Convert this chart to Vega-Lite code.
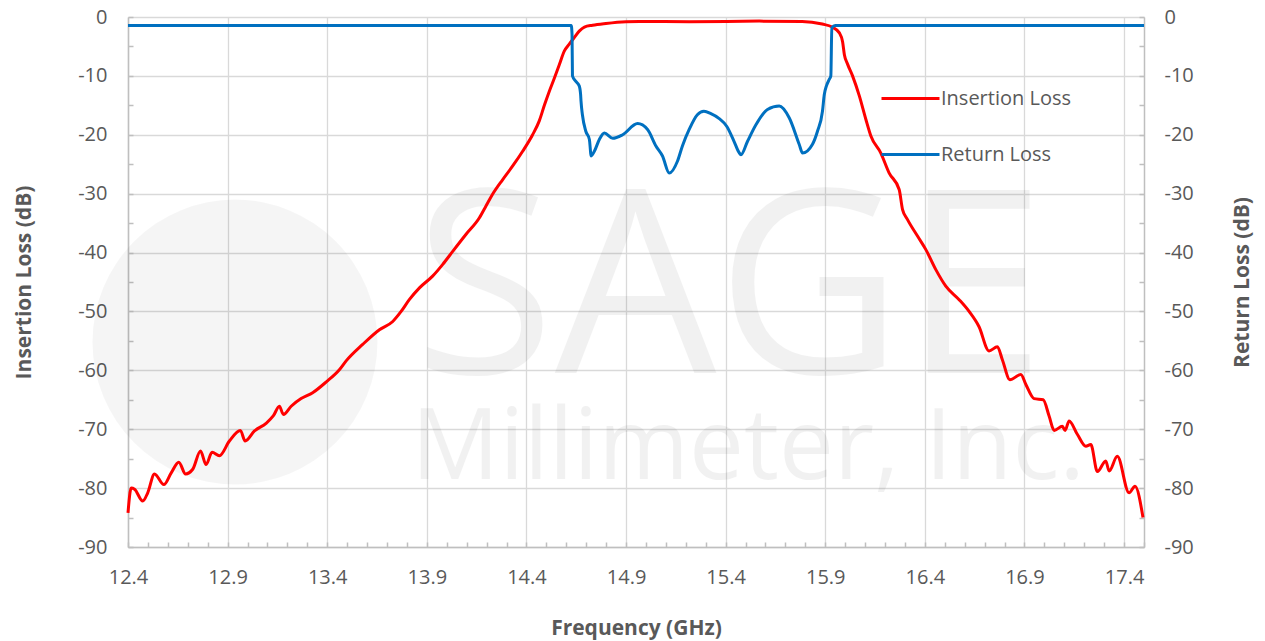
{
  "$schema": "https://vega.github.io/schema/vega-lite/v6.json",
  "width": 1016,
  "height": 530,
  "autosize": {"type": "none"},
  "padding": {"left": 128, "top": 17, "right": 121, "bottom": 94},
  "background": "white",
  "config": {
    "view": {"stroke": null},
    "font": "Open Sans",
    "axis": {
      "domainColor": "#bfbfbf",
      "domainWidth": 1.5,
      "tickColor": "#bfbfbf",
      "tickWidth": 1.5,
      "gridColor": "#d9d9d9",
      "gridWidth": 1.3,
      "labelColor": "#595959",
      "labelFont": "Open Sans",
      "labelFontSize": 20,
      "titleColor": "#595959",
      "titleFont": "Open Sans",
      "titleFontSize": 21,
      "titleFontWeight": "bold",
      "labelOverlap": false,
      "labelFlush": false
    },
    "legend": {
      "orient": "none",
      "legendX": 752,
      "legendY": 51,
      "symbolType": "stroke",
      "symbolSize": 3364,
      "symbolStrokeWidth": 3,
      "labelFont": "Open Sans",
      "labelFontSize": 20,
      "labelColor": "#595959",
      "labelOffset": 0,
      "rowPadding": 15
    }
  },
  "datasets": {
    "curves": [
      {"series": "Insertion Loss", "f": 12.400, "db": -84.2},
      {"series": "Insertion Loss", "f": 12.416, "db": -80.0},
      {"series": "Insertion Loss", "f": 12.433, "db": -80.2},
      {"series": "Insertion Loss", "f": 12.474, "db": -82.2},
      {"series": "Insertion Loss", "f": 12.499, "db": -80.8},
      {"series": "Insertion Loss", "f": 12.533, "db": -77.6},
      {"series": "Insertion Loss", "f": 12.580, "db": -79.4},
      {"series": "Insertion Loss", "f": 12.617, "db": -77.4},
      {"series": "Insertion Loss", "f": 12.655, "db": -75.6},
      {"series": "Insertion Loss", "f": 12.689, "db": -77.6},
      {"series": "Insertion Loss", "f": 12.725, "db": -76.8},
      {"series": "Insertion Loss", "f": 12.764, "db": -73.7},
      {"series": "Insertion Loss", "f": 12.792, "db": -76.0},
      {"series": "Insertion Loss", "f": 12.822, "db": -73.9},
      {"series": "Insertion Loss", "f": 12.859, "db": -74.5},
      {"series": "Insertion Loss", "f": 12.909, "db": -72.0},
      {"series": "Insertion Loss", "f": 12.964, "db": -70.2},
      {"series": "Insertion Loss", "f": 12.988, "db": -72.0},
      {"series": "Insertion Loss", "f": 13.035, "db": -70.3},
      {"series": "Insertion Loss", "f": 13.093, "db": -69.0},
      {"series": "Insertion Loss", "f": 13.130, "db": -67.7},
      {"series": "Insertion Loss", "f": 13.160, "db": -66.1},
      {"series": "Insertion Loss", "f": 13.180, "db": -67.5},
      {"series": "Insertion Loss", "f": 13.219, "db": -66.1},
      {"series": "Insertion Loss", "f": 13.269, "db": -64.8},
      {"series": "Insertion Loss", "f": 13.327, "db": -63.8},
      {"series": "Insertion Loss", "f": 13.394, "db": -62.0},
      {"series": "Insertion Loss", "f": 13.461, "db": -59.9},
      {"series": "Insertion Loss", "f": 13.495, "db": -58.4},
      {"series": "Insertion Loss", "f": 13.578, "db": -55.6},
      {"series": "Insertion Loss", "f": 13.662, "db": -53.1},
      {"series": "Insertion Loss", "f": 13.729, "db": -51.7},
      {"series": "Insertion Loss", "f": 13.771, "db": -50.0},
      {"series": "Insertion Loss", "f": 13.812, "db": -48.0},
      {"series": "Insertion Loss", "f": 13.863, "db": -46.0},
      {"series": "Insertion Loss", "f": 13.929, "db": -44.0},
      {"series": "Insertion Loss", "f": 13.980, "db": -42.0},
      {"series": "Insertion Loss", "f": 14.030, "db": -39.8},
      {"series": "Insertion Loss", "f": 14.097, "db": -36.9},
      {"series": "Insertion Loss", "f": 14.164, "db": -34.1},
      {"series": "Insertion Loss", "f": 14.197, "db": -32.1},
      {"series": "Insertion Loss", "f": 14.230, "db": -30.1},
      {"series": "Insertion Loss", "f": 14.281, "db": -27.6},
      {"series": "Insertion Loss", "f": 14.331, "db": -25.3},
      {"series": "Insertion Loss", "f": 14.381, "db": -22.8},
      {"series": "Insertion Loss", "f": 14.431, "db": -20.0},
      {"series": "Insertion Loss", "f": 14.465, "db": -17.6},
      {"series": "Insertion Loss", "f": 14.490, "db": -15.0},
      {"series": "Insertion Loss", "f": 14.515, "db": -12.6},
      {"series": "Insertion Loss", "f": 14.540, "db": -10.4},
      {"series": "Insertion Loss", "f": 14.565, "db": -8.1},
      {"series": "Insertion Loss", "f": 14.590, "db": -5.8},
      {"series": "Insertion Loss", "f": 14.615, "db": -4.6},
      {"series": "Insertion Loss", "f": 14.640, "db": -3.5},
      {"series": "Insertion Loss", "f": 14.665, "db": -2.4},
      {"series": "Insertion Loss", "f": 14.691, "db": -1.7},
      {"series": "Insertion Loss", "f": 14.732, "db": -1.4},
      {"series": "Insertion Loss", "f": 14.799, "db": -1.1},
      {"series": "Insertion Loss", "f": 14.900, "db": -0.8},
      {"series": "Insertion Loss", "f": 14.966, "db": -0.75},
      {"series": "Insertion Loss", "f": 15.217, "db": -0.8},
      {"series": "Insertion Loss", "f": 15.569, "db": -0.7},
      {"series": "Insertion Loss", "f": 15.784, "db": -0.75},
      {"series": "Insertion Loss", "f": 15.885, "db": -1.2},
      {"series": "Insertion Loss", "f": 15.935, "db": -1.7},
      {"series": "Insertion Loss", "f": 15.971, "db": -2.7},
      {"series": "Insertion Loss", "f": 15.987, "db": -4.2},
      {"series": "Insertion Loss", "f": 15.996, "db": -6.4},
      {"series": "Insertion Loss", "f": 16.012, "db": -8.0},
      {"series": "Insertion Loss", "f": 16.037, "db": -10.0},
      {"series": "Insertion Loss", "f": 16.071, "db": -13.4},
      {"series": "Insertion Loss", "f": 16.104, "db": -17.4},
      {"series": "Insertion Loss", "f": 16.129, "db": -20.2},
      {"series": "Insertion Loss", "f": 16.179, "db": -23.1},
      {"series": "Insertion Loss", "f": 16.221, "db": -26.5},
      {"series": "Insertion Loss", "f": 16.271, "db": -29.3},
      {"series": "Insertion Loss", "f": 16.288, "db": -32.7},
      {"series": "Insertion Loss", "f": 16.313, "db": -34.4},
      {"series": "Insertion Loss", "f": 16.363, "db": -37.2},
      {"series": "Insertion Loss", "f": 16.405, "db": -39.5},
      {"series": "Insertion Loss", "f": 16.455, "db": -42.9},
      {"series": "Insertion Loss", "f": 16.505, "db": -45.7},
      {"series": "Insertion Loss", "f": 16.572, "db": -48.0},
      {"series": "Insertion Loss", "f": 16.622, "db": -50.0},
      {"series": "Insertion Loss", "f": 16.672, "db": -52.6},
      {"series": "Insertion Loss", "f": 16.722, "db": -56.7},
      {"series": "Insertion Loss", "f": 16.764, "db": -56.0},
      {"series": "Insertion Loss", "f": 16.789, "db": -58.2},
      {"series": "Insertion Loss", "f": 16.827, "db": -61.6},
      {"series": "Insertion Loss", "f": 16.882, "db": -60.7},
      {"series": "Insertion Loss", "f": 16.907, "db": -62.4},
      {"series": "Insertion Loss", "f": 16.948, "db": -64.8},
      {"series": "Insertion Loss", "f": 16.994, "db": -65.0},
      {"series": "Insertion Loss", "f": 17.024, "db": -67.8},
      {"series": "Insertion Loss", "f": 17.049, "db": -70.2},
      {"series": "Insertion Loss", "f": 17.090, "db": -69.5},
      {"series": "Insertion Loss", "f": 17.104, "db": -70.2},
      {"series": "Insertion Loss", "f": 17.124, "db": -68.6},
      {"series": "Insertion Loss", "f": 17.166, "db": -70.9},
      {"series": "Insertion Loss", "f": 17.208, "db": -72.9},
      {"series": "Insertion Loss", "f": 17.233, "db": -72.6},
      {"series": "Insertion Loss", "f": 17.266, "db": -77.2},
      {"series": "Insertion Loss", "f": 17.308, "db": -75.4},
      {"series": "Insertion Loss", "f": 17.325, "db": -77.1},
      {"series": "Insertion Loss", "f": 17.366, "db": -74.6},
      {"series": "Insertion Loss", "f": 17.425, "db": -80.8},
      {"series": "Insertion Loss", "f": 17.455, "db": -79.7},
      {"series": "Insertion Loss", "f": 17.495, "db": -85.0},
      {"series": "Return Loss", "f": 12.400, "db": -1.45},
      {"series": "Return Loss", "f": 13.500, "db": -1.45},
      {"series": "Return Loss", "f": 14.625, "db": -1.45},
      {"series": "Return Loss", "f": 14.629, "db": -3.0},
      {"series": "Return Loss", "f": 14.631, "db": -10.0},
      {"series": "Return Loss", "f": 14.647, "db": -10.9},
      {"series": "Return Loss", "f": 14.665, "db": -11.7},
      {"series": "Return Loss", "f": 14.672, "db": -13.2},
      {"series": "Return Loss", "f": 14.674, "db": -14.3},
      {"series": "Return Loss", "f": 14.681, "db": -16.6},
      {"series": "Return Loss", "f": 14.698, "db": -19.4},
      {"series": "Return Loss", "f": 14.716, "db": -20.8},
      {"series": "Return Loss", "f": 14.725, "db": -23.6},
      {"series": "Return Loss", "f": 14.741, "db": -22.8},
      {"series": "Return Loss", "f": 14.766, "db": -20.8},
      {"series": "Return Loss", "f": 14.791, "db": -19.7},
      {"series": "Return Loss", "f": 14.833, "db": -20.6},
      {"series": "Return Loss", "f": 14.883, "db": -20.0},
      {"series": "Return Loss", "f": 14.958, "db": -18.1},
      {"series": "Return Loss", "f": 15.008, "db": -19.1},
      {"series": "Return Loss", "f": 15.050, "db": -21.9},
      {"series": "Return Loss", "f": 15.083, "db": -23.6},
      {"series": "Return Loss", "f": 15.117, "db": -26.5},
      {"series": "Return Loss", "f": 15.158, "db": -24.5},
      {"series": "Return Loss", "f": 15.183, "db": -21.9},
      {"series": "Return Loss", "f": 15.217, "db": -19.1},
      {"series": "Return Loss", "f": 15.258, "db": -16.6},
      {"series": "Return Loss", "f": 15.291, "db": -16.0},
      {"series": "Return Loss", "f": 15.326, "db": -16.4},
      {"series": "Return Loss", "f": 15.366, "db": -17.2},
      {"series": "Return Loss", "f": 15.406, "db": -18.6},
      {"series": "Return Loss", "f": 15.442, "db": -21.1},
      {"series": "Return Loss", "f": 15.467, "db": -23.0},
      {"series": "Return Loss", "f": 15.477, "db": -23.4},
      {"series": "Return Loss", "f": 15.510, "db": -21.1},
      {"series": "Return Loss", "f": 15.552, "db": -18.3},
      {"series": "Return Loss", "f": 15.610, "db": -15.7},
      {"series": "Return Loss", "f": 15.669, "db": -15.1},
      {"series": "Return Loss", "f": 15.719, "db": -17.1},
      {"series": "Return Loss", "f": 15.769, "db": -21.6},
      {"series": "Return Loss", "f": 15.786, "db": -23.1},
      {"series": "Return Loss", "f": 15.836, "db": -21.6},
      {"series": "Return Loss", "f": 15.861, "db": -19.4},
      {"series": "Return Loss", "f": 15.886, "db": -16.0},
      {"series": "Return Loss", "f": 15.895, "db": -13.2},
      {"series": "Return Loss", "f": 15.906, "db": -11.7},
      {"series": "Return Loss", "f": 15.920, "db": -10.6},
      {"series": "Return Loss", "f": 15.928, "db": -10.0},
      {"series": "Return Loss", "f": 15.933, "db": -1.8},
      {"series": "Return Loss", "f": 15.950, "db": -1.45},
      {"series": "Return Loss", "f": 17.500, "db": -1.45}
    ],
    "watermark": [
      {"kind": "logo", "label": "", "f": 12.937, "db": -55.2},
      {"kind": "big", "label": "SAGE", "f": 15.42, "db": -60.4},
      {"kind": "small", "label": "Millimeter, Inc.", "f": 15.513, "db": -78.5}
    ]
  },
  "resolve": {"axis": {"y": "independent", "x": "independent"}},
  "layer": [
    {
      "data": {"name": "watermark"},
      "transform": [{"filter": "datum.kind === 'logo'"}],
      "mark": {"type": "point", "shape": "circle", "filled": true, "size": 81225, "color": "#000000", "opacity": 0.04},
      "encoding": {
        "x": {"field": "f", "type": "quantitative", "scale": {"domain": [12.4, 17.5], "nice": false, "zero": false}, "axis": null},
        "y": {"field": "db", "type": "quantitative", "scale": {"domain": [-90, 0], "nice": false, "zero": false}, "axis": null}
      }
    },
    {
      "data": {"name": "watermark"},
      "transform": [{"filter": "datum.kind === 'big'"}],
      "mark": {"type": "text", "font": "Open Sans", "fontWeight": 400, "fontSize": 256, "align": "center", "baseline": "alphabetic", "color": "#000000", "opacity": 0.05},
      "encoding": {
        "x": {"field": "f", "type": "quantitative", "axis": null},
        "y": {"field": "db", "type": "quantitative", "axis": null},
        "text": {"field": "label"}
      }
    },
    {
      "data": {"name": "watermark"},
      "transform": [{"filter": "datum.kind === 'small'"}],
      "mark": {"type": "text", "font": "Open Sans", "fontWeight": 400, "fontSize": 98, "align": "center", "baseline": "alphabetic", "color": "#000000", "opacity": 0.05},
      "encoding": {
        "x": {"field": "f", "type": "quantitative", "axis": null},
        "y": {"field": "db", "type": "quantitative", "axis": null},
        "text": {"field": "label"}
      }
    },
    {
      "data": {"name": "curves"},
      "transform": [{"filter": "datum.series === 'Insertion Loss'"}],
      "mark": {"type": "line", "strokeWidth": 3, "interpolate": "monotone"},
      "encoding": {
        "x": {
          "field": "f", "type": "quantitative",
          "axis": {
            "orient": "bottom",
            "title": "Frequency (GHz)",
            "values": [12.4,12.5,12.6,12.7,12.8,12.9,13,13.1,13.2,13.3,13.4,13.5,13.6,13.7,13.8,13.9,14,14.1,14.2,14.3,14.4,14.5,14.6,14.7,14.8,14.9,15,15.1,15.2,15.3,15.4,15.5,15.6,15.7,15.8,15.9,16,16.1,16.2,16.3,16.4,16.5,16.6,16.7,16.8,16.9,17,17.1,17.2,17.3,17.4,17.5],
            "labelExpr": "round(datum.value * 10) % 5 === 4 ? format(datum.value, '.1f') : ''",
            "gridOpacity": {"condition": {"test": "round(datum.value * 10) % 5 !== 4", "value": 0}, "value": 1},
            "grid": true,
            "tickSize": -5,
            "labelPadding": 25,
            "titlePadding": 30
          }
        },
        "y": {
          "field": "db", "type": "quantitative",
          "axis": {
            "orient": "left",
            "title": "Insertion Loss (dB)",
            "values": [0,-5,-10,-15,-20,-25,-30,-35,-40,-45,-50,-55,-60,-65,-70,-75,-80,-85,-90],
            "labelExpr": "datum.value % 10 === 0 ? '' + datum.value : ''",
            "gridOpacity": {"condition": {"test": "datum.value % 10 !== 0", "value": 0}, "value": 1},
            "grid": true,
            "tickSize": -5,
            "labelPadding": 26,
            "titlePadding": 43
          }
        },
        "color": {
          "field": "series", "type": "nominal",
          "scale": {"domain": ["Insertion Loss", "Return Loss"], "range": ["#FF0000", "#0070C0"]},
          "legend": {"title": null}
        }
      }
    },
    {
      "data": {"name": "curves"},
      "transform": [{"filter": "datum.series === 'Return Loss'"}],
      "mark": {"type": "line", "strokeWidth": 3, "interpolate": "monotone"},
      "encoding": {
        "x": {"field": "f", "type": "quantitative", "axis": null},
        "y": {
          "field": "db", "type": "quantitative",
          "axis": {
            "orient": "right",
            "title": "Return Loss (dB)",
            "titleAngle": 270,
            "values": [0,-5,-10,-15,-20,-25,-30,-35,-40,-45,-50,-55,-60,-65,-70,-75,-80,-85,-90],
            "labelExpr": "datum.value % 10 === 0 ? '' + datum.value : ''",
            "grid": false,
            "tickSize": -5,
            "labelPadding": 25,
            "titlePadding": 59
          }
        },
        "color": {"field": "series", "type": "nominal"}
      }
    }
  ]
}
